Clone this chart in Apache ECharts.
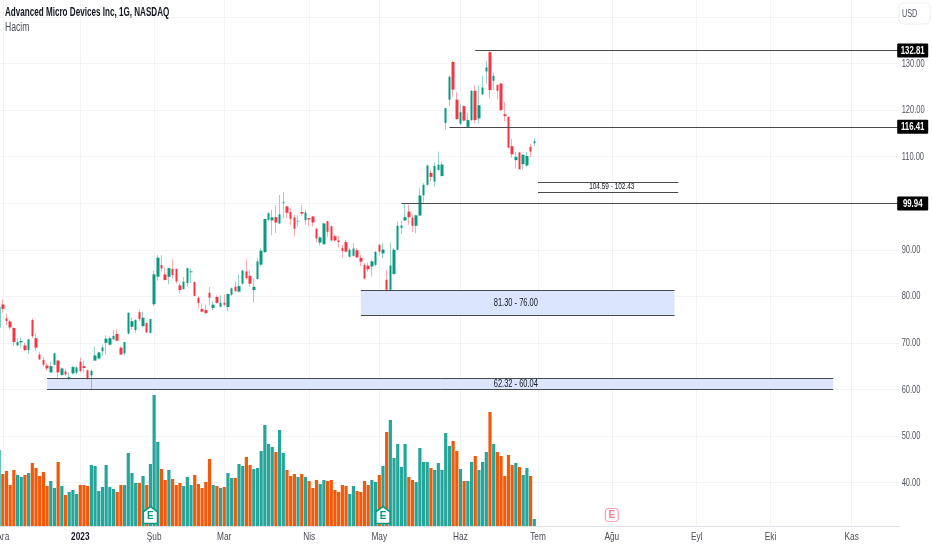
<!DOCTYPE html>
<html><head><meta charset="utf-8">
<style>html,body{margin:0;padding:0;background:#fff}#c{width:932px;height:550px}</style>
<script src="https://cdn.jsdelivr.net/npm/echarts@6/dist/echarts.min.js"></script>
</head><body><div id="c"></div>
<script>
const categories = ["2022-11-30",
"2022-12-01","2022-12-02","2022-12-05","2022-12-06","2022-12-07","2022-12-08","2022-12-09","2022-12-12","2022-12-13","2022-12-14","2022-12-15","2022-12-16","2022-12-19","2022-12-20","2022-12-21","2022-12-22","2022-12-23","2022-12-27","2022-12-28","2022-12-29","2022-12-30",
"2023-01-03","2023-01-04","2023-01-05","2023-01-06","2023-01-09","2023-01-10","2023-01-11","2023-01-12","2023-01-13","2023-01-17","2023-01-18","2023-01-19","2023-01-20","2023-01-23","2023-01-24","2023-01-25","2023-01-26","2023-01-27","2023-01-30","2023-01-31",
"2023-02-01","2023-02-02","2023-02-03","2023-02-06","2023-02-07","2023-02-08","2023-02-09","2023-02-10","2023-02-13","2023-02-14","2023-02-15","2023-02-16","2023-02-17","2023-02-21","2023-02-22","2023-02-23","2023-02-24","2023-02-27","2023-02-28",
"2023-03-01","2023-03-02","2023-03-03","2023-03-06","2023-03-07","2023-03-08","2023-03-09","2023-03-10","2023-03-13","2023-03-14","2023-03-15","2023-03-16","2023-03-17","2023-03-20","2023-03-21","2023-03-22","2023-03-23","2023-03-24","2023-03-27","2023-03-28","2023-03-29","2023-03-30","2023-03-31",
"2023-04-03","2023-04-04","2023-04-05","2023-04-06","2023-04-10","2023-04-11","2023-04-12","2023-04-13","2023-04-14","2023-04-17","2023-04-18","2023-04-19","2023-04-20","2023-04-21","2023-04-24","2023-04-25","2023-04-26","2023-04-27","2023-04-28",
"2023-05-01","2023-05-02","2023-05-03","2023-05-04","2023-05-05","2023-05-08","2023-05-09","2023-05-10","2023-05-11","2023-05-12","2023-05-15","2023-05-16","2023-05-17","2023-05-18","2023-05-19","2023-05-22","2023-05-23","2023-05-24","2023-05-25","2023-05-26","2023-05-30","2023-05-31",
"2023-06-01","2023-06-02","2023-06-05","2023-06-06","2023-06-07","2023-06-08","2023-06-09","2023-06-12","2023-06-13","2023-06-14","2023-06-15","2023-06-16","2023-06-20","2023-06-21","2023-06-22","2023-06-23","2023-06-26","2023-06-27","2023-06-28","2023-06-29","2023-06-30",
"2023-07-03","2023-07-05","2023-07-06","2023-07-07","2023-07-10","2023-07-11","2023-07-12","2023-07-13","2023-07-14","2023-07-17","2023-07-18","2023-07-19","2023-07-20","2023-07-21","2023-07-24","2023-07-25","2023-07-26","2023-07-27","2023-07-28","2023-07-31",
"2023-08-01","2023-08-02","2023-08-03","2023-08-04","2023-08-07","2023-08-08","2023-08-09","2023-08-10","2023-08-11","2023-08-14","2023-08-15","2023-08-16","2023-08-17","2023-08-18","2023-08-21","2023-08-22","2023-08-23","2023-08-24","2023-08-25","2023-08-28","2023-08-29","2023-08-30","2023-08-31",
"2023-09-01","2023-09-05","2023-09-06","2023-09-07","2023-09-08","2023-09-11","2023-09-12","2023-09-13","2023-09-14","2023-09-15","2023-09-18","2023-09-19","2023-09-20","2023-09-21","2023-09-22","2023-09-25","2023-09-26","2023-09-27","2023-09-28","2023-09-29",
"2023-10-02","2023-10-03","2023-10-04","2023-10-05","2023-10-06","2023-10-09","2023-10-10","2023-10-11","2023-10-12","2023-10-13","2023-10-16","2023-10-17","2023-10-18","2023-10-19","2023-10-20","2023-10-23","2023-10-24","2023-10-25","2023-10-26","2023-10-27","2023-10-30","2023-10-31",
"2023-11-01","2023-11-02","2023-11-03","2023-11-06","2023-11-07","2023-11-08","2023-11-09","2023-11-10","2023-11-13","2023-11-14","2023-11-15","2023-11-16","2023-11-17","2023-11-20"];

const opens = [73.3,78.25,75.25,74.6,73.2,69.45,70.1,69.45,68.45,74.9,71,67.5,66.3,65.15,63.65,65.3,66.2,63.1,63.85,62.45,63.45,63.6,65.95,65,64.1,63,66.2,66.65,68.2,70,69.6,70.75,71.9,68.95,67.75,72,73.45,72.75,76.6,73.6,74.25,72.15,78.3,84.2,86.7,84.7,84.2,85.85,85.9,82.35,81.55,82.85,85.15,83.05,79.7,77.25,77.05,80.75,77.5,79.85,77.75,78.6,77.7,80.35,82.05,81,82.7,85.35,84.4,81.35,83.7,86.8,89.5,96.45,96.3,97,95.65,100.1,99.3,98.1,96.95,96.1,98.1,96.35,96.8,97.15,94.5,91.55,91.2,96.15,95.05,92.9,92,90.35,91.65,88.5,88.7,89.9,88.25,86.75,86.6,86.4,86.75,91.05,89.2,83.55,81.4,84.8,90,94.7,96.3,98.2,96.9,95.15,97.35,101.7,103.95,106.5,104.65,107.15,105.85,117.25,122.25,130.35,122.25,117.1,120.85,116.4,117.85,124.15,118.2,123.4,128.3,132.45,126.3,125.4,125.7,119.1,118.55,112.25,109.25,110.9,108.4,108.1,112.1,112.9];
const closes = [77.75,77.3,74.7,73.3,70.2,70.15,70.4,68.45,70.75,71.45,68.95,66.45,65.3,64.5,65,67.75,63.65,64.5,63.2,62.6,64.8,64.7,63.95,64.6,62.2,64,67.3,67.95,69,70.9,71,71.5,70.45,67.5,70.15,76.45,74.65,74.9,75.1,75.4,72.25,75.1,84.7,88.3,86,83.5,86.05,84.55,83.2,81.35,83.15,86.05,85.35,80.1,78.55,76.7,76.4,79.7,78.2,78.6,78.6,78.2,80.5,81.7,81.1,82.2,85.5,83.9,82.7,82.05,87.5,89.8,96.6,97.85,96.95,95.85,97.6,100.3,97.95,96.65,94.5,96.2,97.75,98,96.5,95.85,92.45,92.65,95.65,93.85,92,92,91.65,89.75,89.6,90,90.25,88.35,87.45,83.8,85.8,87.5,89.55,89.6,90.05,81.4,86.6,90,95.15,95.2,97,97,95.15,97.4,101.65,103.95,108.1,105.65,108,108.25,108.3,120.4,127.15,124.4,118.1,119.55,117.75,117.85,124.15,117.85,121.05,124.85,129.15,124.3,127.35,124.15,120,118.7,111.95,110.5,109.95,107.3,110.4,110.15,111.1,113.3];
const lows = [73,76.5,73.8,72.9,69.3,69.3,69,68.2,67.6,71,68.3,66.3,64.9,64,63.6,65.15,62.35,62.85,63,62,63.15,63.2,63.65,63.6,62.15,60,66.15,66.5,67.15,67.4,69.45,70.6,70.4,67.35,67.4,71.8,72.9,72.15,74.65,73.3,72.1,72,77.9,83.35,85.3,83.35,82.6,83.85,82.7,80.6,81.4,82,82.85,80,77.45,76.55,76.1,78.1,77,78.4,77.55,77.85,76.75,80.1,81,80.85,82.55,83.55,82,78.7,83.55,86.55,89.3,96.1,93.1,93.6,95.5,96.8,96.8,95.35,93,95,97.3,95.35,95,95,91.6,90.85,91.05,92.7,91.75,91.75,90.5,88.35,89.4,88.35,88.55,88.2,86.55,83.65,85.3,84.25,86.4,88.85,88.2,81.05,81.3,84.65,89.85,93.4,96.2,95.35,93.75,93.55,97.2,100.15,103.8,104.65,103.6,107,105.7,115.8,120.9,122.85,117.85,116.75,117.6,116.25,117.6,117.1,117.1,123.2,125.7,122.5,124.3,122.25,119.85,117.6,111.75,109.8,107.45,107.25,107.25,107.8,109.8,112.3];
const highs = [78.4,79.3,76.3,75,73.3,70.95,71.15,70,70.8,75.3,72,68.1,67,65.6,65.95,67.9,66.45,64.7,64.5,63.6,65,65,66.8,66.15,64.3,64.3,69.15,68.1,69.65,71.6,71.45,72.75,72.9,69.3,70.25,76.6,75.45,75.1,77.2,76.7,74.45,75.2,85.5,88.9,88.85,86.2,86.2,87.9,85.9,82.85,84.15,86.15,86,83.2,80,78.55,78.2,82,78.9,80.25,80.2,80.35,80.7,81.9,83.2,84.75,85.7,87.85,85.55,83.9,88.35,90.35,96.65,98.1,98.6,99.6,101.75,102.4,99.45,98.95,97.5,97.3,99.65,98.6,96.8,97.3,94.65,92.85,95.85,96.2,95.2,93.2,92.95,91.05,92.15,90.35,91.4,90.35,88.9,87.1,87.25,87.85,89.7,91.2,91.4,85.7,91.55,90.35,96.05,96.2,100,99.65,97.5,97.5,103.35,104.3,108.3,107.15,108.75,111.1,108.95,120.55,127.5,130.7,123.9,121.2,121.05,119.4,124.3,125.35,125.35,127.3,130.55,132.7,128,125.55,125.85,121.75,118.7,113.8,111,111,110.55,111,112.8,113.9];
const volumes = [76,52,55,41,56,51,49,51,53,63,58,50,54,40,45,38,64,40,31,34,36,32,41,41,40,61,60,35,39,61,39,37,34,41,41,73,53,43,43,50,41,62,131,84,57,46,56,47,41,43,40,49,41,51,42,38,44,67,41,40,38,39,53,48,48,62,60,69,61,57,58,75,101,82,79,74,96,73,56,50,52,49,52,49,45,38,46,42,46,45,46,36,34,41,40,32,40,35,34,45,41,46,44,51,60,94,106,68,82,59,82,49,46,44,78,64,64,58,56,63,56,93,80,85,75,57,45,45,64,70,56,64,74,114,82,74,70,50,71,61,63,59,51,58,50,7];

const axisTickDates = ["2022-12-01","2023-01-03","2023-02-01","2023-03-01","2023-04-03","2023-05-01","2023-06-01","2023-07-03","2023-08-01","2023-09-01","2023-10-02","2023-11-01"];
const axisTickLabels = ["Ara","2023","Şub","Mar","Nis","May","Haz","Tem","Ağu","Eyl","Eki","Kas"];
const priceTicks = [130,120,110,100,90,80,70,60,50,40];

const lineStarts = ["2023-06-07","2023-05-26","2023-05-09"];
const lineValues = [132.81,116.41,99.94];

const zoneStarts = ["2023-07-03","2023-04-24","2022-12-19"];
const zoneEnds = ["2023-08-25","2023-08-24","2023-10-25"];
const zoneHighs = [104.59,81.30,62.32];
const zoneLows = [102.43,76.00,60.04];
const zoneTexts = ["104.59 - 102.43","81.30 - 76.00","62.32 - 60.04"];
const zoneTextDates = ["2023-08-01","2023-06-23","2023-06-23"];
const zoneTextSizes = [9.5,11,11];
const zoneFills = ["rgba(255,255,255,0)","#dbe5fd","#dbe5fd"];

const earningsPast = ["2023-01-31","2023-05-02"];
const earningsFuture = ["2023-08-01"];

const UP="#089981", DOWN="#f23645", UPW="rgba(8,153,129,0.42)", DOWNW="rgba(242,54,69,0.42)";
const VUP="#26a69a", VDOWN="#f15a0a", LINE="#4a4a4a";
const FONT="'Liberation Sans',Arial,sans-serif";
const lastCat = categories[categories.length-1];
const tickSet = new Set(axisTickDates);
const isTick = (i,v)=> tickSet.has(v);

const wickData = opens.map((o,i)=>[o,closes[i],lows[i],highs[i]]);
const bodyData = opens.map((o,i)=>[o,closes[i],Math.min(o,closes[i]),Math.max(o,closes[i])]);

const markLines = [];
lineValues.forEach((v,i)=>markLines.push([{coord:[lineStarts[i],v]},{coord:[lastCat,v]}]));
zoneHighs.forEach((h,i)=>{
  markLines.push([{coord:[zoneStarts[i],h]},{coord:[zoneEnds[i],h]}]);
  markLines.push([{coord:[zoneStarts[i],zoneLows[i]]},{coord:[zoneEnds[i],zoneLows[i]]}]);
});
const markAreas = zoneHighs.map((h,i)=>[
  {coord:[zoneStarts[i],h],itemStyle:{color:zoneFills[i]}},
  {coord:[zoneEnds[i],zoneLows[i]]}
]);

// The reference's type is narrower than any installed face, so text is condensed with scaleX.
const narrow=(x,y,text,o)=>({type:'text',x,y,scaleX:o.sx,silent:true,z2:o.z2||10,
  style:{text,fontFamily:FONT,fontSize:o.size,fontWeight:o.weight||'normal',fill:o.fill,
    align:o.align||'center',verticalAlign:'middle'}});
const textSeries=(name,ax,data,render)=>({type:'custom',name,xAxisIndex:ax,yAxisIndex:ax,z:8,silent:true,
  clip:false,encode:{x:0,y:1},data,renderItem:render});

const chart = echarts.init(document.getElementById('c'),null,{renderer:'canvas'});
chart.setOption({
  animation:false,
  backgroundColor:'#fff',
  grid:[
    {left:-0.9,top:0,width:900.6,height:526,outerBoundsMode:'none'},
    {left:-0.9,top:17,width:900.6,height:465.5,outerBoundsMode:'none'}
  ],
  xAxis:[
    {type:'category',gridIndex:0,data:categories,boundaryGap:false,
      axisLine:{show:true,onZero:false,lineStyle:{color:'#e0e3eb'}},axisTick:{show:false},axisLabel:{show:false},
      splitLine:{show:true,interval:isTick,lineStyle:{color:'#f2f3f5',width:1}}},
    {type:'category',gridIndex:1,data:categories,boundaryGap:false,
      axisLine:{show:false},axisTick:{show:false},axisLabel:{show:false},splitLine:{show:false}}
  ],
  yAxis:[
    {type:'value',gridIndex:0,min:0,max:526,show:false},
    {type:'value',gridIndex:1,position:'right',min:40,max:140,interval:10,
      axisLine:{show:false},axisTick:{show:false},axisLabel:{show:false},
      splitLine:{show:true,lineStyle:{color:'#f2f3f5',width:1}}}
  ],
  series:[
    {type:'bar',name:'Hacim',xAxisIndex:0,yAxisIndex:0,barWidth:3.2,z:1,
      data:volumes.map((v,i)=>({value:v,itemStyle:{color:closes[i]>=opens[i]?VUP:VDOWN}}))},
    {type:'candlestick',name:'AMD',xAxisIndex:1,yAxisIndex:1,barWidth:1,z:3,data:wickData,
      itemStyle:{color:'rgba(0,0,0,0)',color0:'rgba(0,0,0,0)',borderColor:UPW,borderColor0:DOWNW,borderWidth:1},
      markArea:{silent:true,z:2,data:markAreas,label:{show:false}},
      markLine:{silent:true,z:5,symbol:'none',precision:2,data:markLines,
        lineStyle:{color:LINE,width:1,type:'solid',opacity:1},label:{show:false},emphasis:{disabled:true}}},
    {type:'candlestick',name:'AMD gövde',xAxisIndex:1,yAxisIndex:1,barWidth:3,z:4,data:bodyData,
      itemStyle:{color:UP,color0:DOWN,borderColor:UP,borderColor0:DOWN,borderWidth:0}},
    textSeries('Bölge',1,zoneTexts.map((t,i)=>[zoneTextDates[i],(zoneHighs[i]+zoneLows[i])/2]),(p,api)=>{
      const c=api.coord([api.value(0),api.value(1)]);
      return narrow(c[0],c[1],zoneTexts[p.dataIndex],{sx:.68,size:zoneTextSizes[p.dataIndex],fill:'#131722'});
    }),
    textSeries('Fiyat ekseni',1,priceTicks.map(v=>[lastCat,v]),(p,api)=>{
      const c=api.coord([api.value(0),api.value(1)]);
      return narrow(c[0]+2,c[1],priceTicks[p.dataIndex].toFixed(2),{sx:.65,size:11.5,fill:'#50535e',align:'left'});
    }),
    textSeries('Zaman ekseni',0,axisTickDates.map(d=>[d,0]),(p,api)=>{
      const c=api.coord([api.value(0),api.value(1)]);
      const l=axisTickLabels[p.dataIndex];
      return narrow(c[0],c[1]+11,l,{sx:.72,size:11.5,fill:l==='2023'?'#131722':'#4a4d57',weight:l==='2023'?'bold':'normal'});
    }),
    textSeries('Fiyat etiketi',1,lineValues.map(v=>[lastCat,v]),(p,api)=>{
      const c=api.coord([api.value(0),api.value(1)]);
      return {type:'group',children:[
        {type:'rect',silent:true,z2:20,shape:{x:c[0]-2.5,y:c[1]-7,width:31,height:14,r:1},style:{fill:'#000'}},
        Object.assign(narrow(c[0]+13,c[1],lineValues[p.dataIndex].toFixed(2),{sx:.68,size:11.5,weight:'bold',fill:'#fff'}),{z2:21})
      ]};
    }),
    {type:'scatter',name:'Kazanç',xAxisIndex:0,yAxisIndex:0,z:7,silent:true,
      symbol:'path://M7 0 L14 5.5 V18 H0 V5.5 Z',symbolSize:[14,17],
      data:earningsPast.map(d=>[d,11]),
      itemStyle:{color:'#fff',borderColor:UP,borderWidth:1.5,opacity:1},
      label:{show:true,position:'inside',offset:[0,1],formatter:'E',fontFamily:FONT,fontSize:10,fontWeight:'bold',color:UP}},
    {type:'scatter',name:'Kazanç (gelecek)',xAxisIndex:0,yAxisIndex:0,z:7,silent:true,
      symbol:'roundRect',symbolSize:[13,13],
      data:earningsFuture.map(d=>[d,11]),
      itemStyle:{color:'#fff',borderColor:'#f7a1ae',borderWidth:1.2,opacity:1},
      label:{show:true,position:'inside',formatter:'E',fontFamily:FONT,fontSize:10,fontWeight:'bold',color:'#ef7f90'}}
  ],
  graphic:[
    {type:'text',z:30,x:5,y:13,scaleX:.675,style:{text:'Advanced Micro Devices Inc, 1G, NASDAQ',fontFamily:FONT,fontSize:12,fontWeight:'bold',fill:'#131722',verticalAlign:'middle'}},
    {type:'text',z:30,x:5,y:28,scaleX:.72,style:{text:'Hacim',fontFamily:FONT,fontSize:12,fill:'#4a4d57',verticalAlign:'middle'}},
    {type:'rect',z:20,shape:{x:899,y:3,width:31,height:21,r:4},style:{fill:'#fff',stroke:'#eceef2',lineWidth:1}},
    {type:'text',z:21,x:902,y:13.5,scaleX:.66,style:{text:'USD',fontFamily:FONT,fontSize:11,fill:'#50535e',verticalAlign:'middle'}}
  ]
});
</script></body></html>
